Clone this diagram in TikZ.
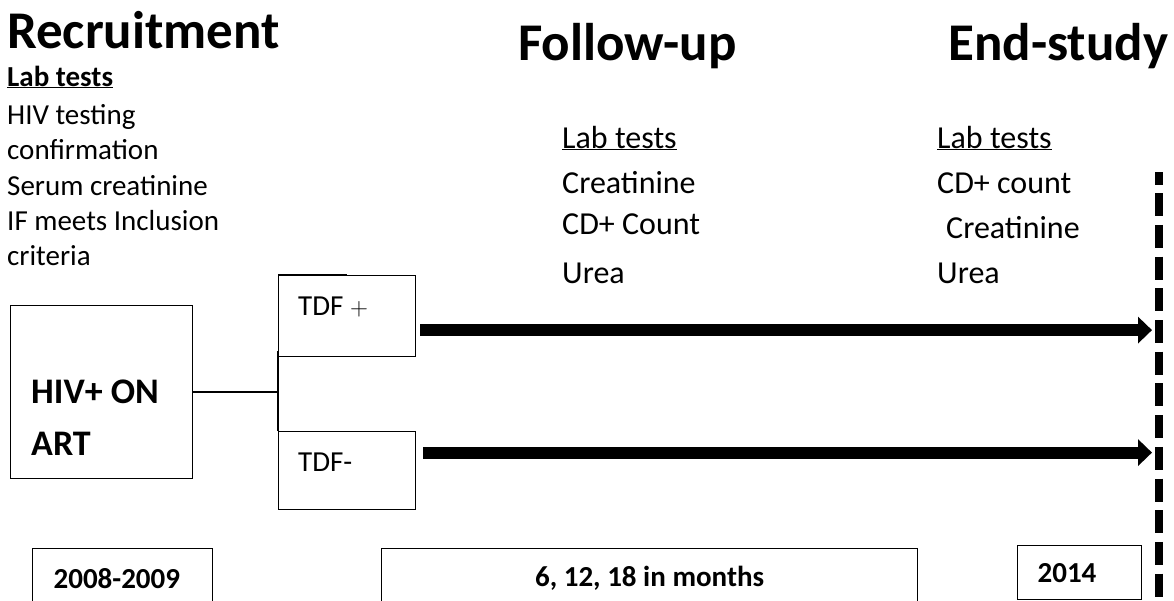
\documentclass[tikz,border=0pt]{standalone}
\usepackage{fontspec}
\setmainfont{Carlito}
\usetikzlibrary{arrows.meta}

\tikzset{
  box/.style={draw, line width=1.2pt, inner sep=0pt, anchor=north west},
  txt/.style={anchor=base west, inner sep=0pt},
  heading/.style={txt, font=\fontsize{53}{60}\selectfont\bfseries},
  smalltxt/.style={txt, font=\fontsize{29}{35}\selectfont},
  midtxt/.style={txt, font=\fontsize{32}{40}\selectfont},
  hivtxt/.style={txt, font=\fontsize{36}{44}\selectfont\bfseries},
  boldtxt/.style={font=\fontsize{29}{35}\selectfont\bfseries},
  link/.style={line width=2pt},
  bigarrow/.style={line width=12pt, -{Triangle[length=14pt, width=26pt]}},
  endline/.style={line width=8pt, dash pattern=on 23pt off 8.7pt, dash phase=10.5pt},
}

\begin{document}
\begin{tikzpicture}[x=1pt, y=-1pt]
	\fill[white] (0,0) rectangle (1174,600);
	\useasboundingbox (0,0) rectangle (1174,600);
	% headings
	\node[heading] (rechead) at (7,48) {Recruitment};
	\node[heading] (fuhead) at (518,60) {Follow-up};
	\node[heading] (endhead) at (948,60) {End-study};
	% lab tests at recruitment
	\node[smalltxt] (reclab) at (7,86) {\textbf{\underline{Lab tests}}};
	\node[smalltxt] (rec1) at (7,124) {HIV testing};
	\node[smalltxt] (rec2) at (7,159) {confirmation};
	\node[smalltxt] (rec3) at (7,195) {Serum creatinine};
	\node[smalltxt] (rec4) at (7,230) {IF meets Inclusion};
	\node[smalltxt] (rec5) at (7,265) {criteria};
	% lab tests at follow-up
	\node[midtxt] (fulab) at (562,148) {\underline{Lab tests}};
	\node[midtxt] (fu1) at (562,193) {Creatinine};
	\node[midtxt] (fu2) at (562,234) {CD+ Count};
	\node[midtxt] (fu3) at (562,283) {Urea};
	% lab tests at end of study
	\node[midtxt] (endlab) at (937,148) {\underline{Lab tests}};
	\node[midtxt] (end1) at (937,193) {CD+ count};
	\node[midtxt] (end2) at (946,238) {Creatinine};
	\node[midtxt] (end3) at (937,283) {Urea};
	% groups
	\node[box, minimum width=182pt, minimum height=173pt] (hiv) at (10,305) {};
	\node[hivtxt] (hivtxt1) at (31,403) {HIV+ ON};
	\node[hivtxt] (hivtxt2) at (31,455) {ART};
	\node[box, minimum width=137pt, minimum height=81pt] (tdfp) at (278,275) {};
	\node[smalltxt] (tdfptxt) at (298,315) {TDF $+$};
	\node[box, minimum width=137pt, minimum height=78pt] (tdfm) at (278,431) {};
	\node[smalltxt] (tdfmtxt) at (298,471) {TDF-};
	\coordinate (split) at (hiv.east -| tdfp.west);
	\draw[link] (hiv.east) -- (split);
	\draw[link] ([yshift=6pt]tdfp.south west) -- (tdfm.north west);
	\draw[link] (tdfp.north west) -- ++(69,0);
	% end of study line and arrows
	\coordinate (endtop) at (1159,172);
	\coordinate (endbot) at (1159,606);
	\draw[endline] (endtop) -- (endbot);
	\coordinate (tdfparm) at ([yshift=-14pt]tdfp.east);
	\coordinate (tdfmarm) at ([yshift=18pt]tdfm.east);
	\draw[bigarrow, shorten <=4pt, shorten >=7pt] (tdfparm) -- (tdfparm -| endtop);
	\draw[bigarrow, shorten <=7pt, shorten >=7pt] (tdfmarm) -- (tdfmarm -| endtop);
	% time line
	\node[box, boldtxt, minimum width=180pt, minimum height=60pt, text width=138pt, align=left] (yearstart) at (32,548) {2008-2009};
	\node[box, boldtxt, minimum width=536pt, minimum height=60pt] (visits) at (381,548) {6, 12, 18 in months};
	\node[box, boldtxt, minimum width=124pt, minimum height=54pt, text width=84pt, align=left] (yearend) at (1017,545) {2014};
\end{tikzpicture}
\end{document}
